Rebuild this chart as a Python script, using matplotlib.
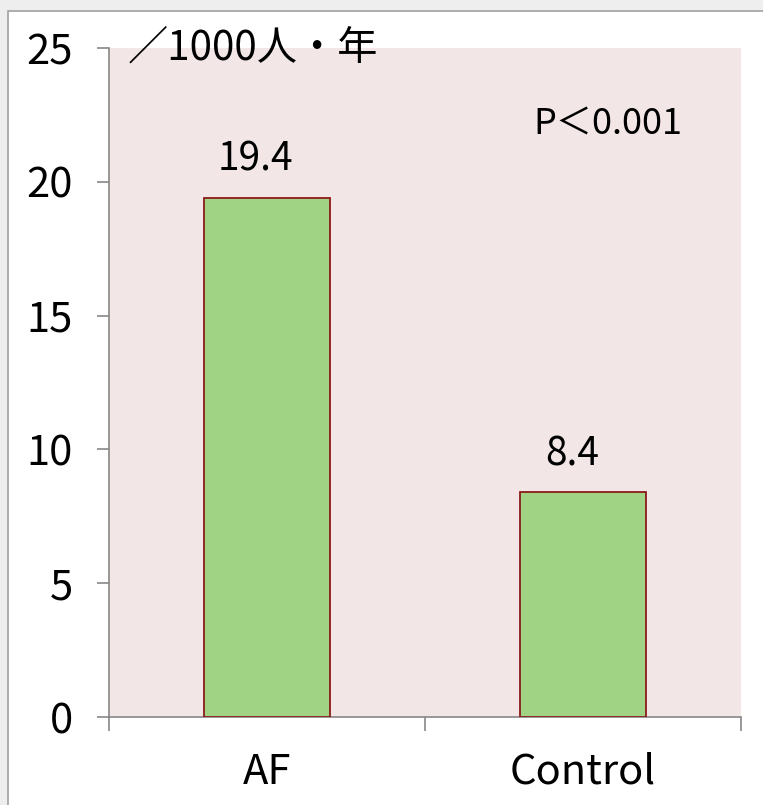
import matplotlib
matplotlib.use('Agg')
from matplotlib import pyplot as plt
from matplotlib.patches import Rectangle

groups = ['AF', 'Control']
rates = [19.4, 8.4]
yticks = [0, 5, 10, 15, 20, 25]

plt.rcParams['font.family'] = ['Noto Sans CJK JP', 'DejaVu Sans']

fig = plt.figure(figsize=(7.63, 8.05), dpi=100)
fig.patch.set_facecolor('#eeeeee')
# white panel with thin grey frame, like a pasted slide object
fig.patches.append(Rectangle((8 / 763, -0.01), 1.0, 1 - 11 / 805 + 0.01,
                             transform=fig.transFigure, facecolor='white',
                             edgecolor='#a0a0a0', linewidth=1.2, zorder=-5))

ax = fig.add_axes([109 / 763, 1 - 717 / 805, (741 - 109) / 763, (717 - 48) / 805])
ax.set_zorder(2)
ax.set_facecolor('#f2e6e6')

x = range(len(groups))
bars = ax.bar(x, rates, width=0.4, color='#a0d383', edgecolor='#8b1a1a', linewidth=1.3, zorder=3)

for xi, v in zip(x, rates):
    ax.annotate(f'{v}', (xi, v), xytext=(-8, 13), textcoords='offset points',
                ha='center', va='bottom', fontsize=28)

ax.set_xlim(-0.5, 1.5)
ax.set_ylim(0, 25)
ax.set_yticks(yticks)
ax.set_yticklabels([str(t) for t in yticks], fontsize=30)

ax.set_xticks([-0.5, 0.5, 1.5], minor=False)
ax.set_xticklabels(['', '', ''])
ax.set_xticks(list(x), minor=True)
ax.set_xticklabels(groups, minor=True, fontsize=30)
ax.tick_params(axis='x', which='minor', length=0, pad=25)
ax.tick_params(axis='x', which='major', length=10, color='#888888', width=1.2)
ax.tick_params(axis='y', length=9, color='#888888', width=1.2, pad=17)

for s in ['top', 'right']:
    ax.spines[s].set_visible(False)
for s in ['left', 'bottom']:
    ax.spines[s].set_color('#888888')
    ax.spines[s].set_linewidth(1.2)

ax.text(0.79, 0.887, 'P＜0.001', transform=ax.transAxes, ha='center', va='center', fontsize=26)
ax.text(128 / 763, 1 - 48 / 805, '／1000人・年', transform=fig.transFigure,
        ha='left', va='center', fontsize=29, zorder=5, clip_on=False)

fig.savefig('out.png', dpi=100)
